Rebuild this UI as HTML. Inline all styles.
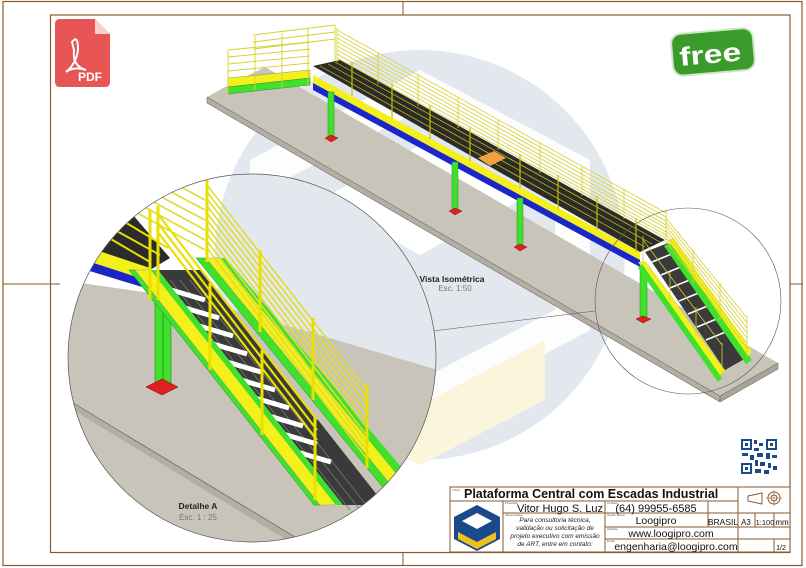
<!DOCTYPE html>
<html><head><meta charset="utf-8"><style>
html,body{margin:0;padding:0;background:#fff;}
svg{display:block;font-family:"Liberation Sans",sans-serif;}
</style></head><body>
<svg width="806" height="568" viewBox="0 0 806 568" xmlns="http://www.w3.org/2000/svg">
<defs>
<clipPath id="dc"><circle cx="252" cy="358" r="184"/></clipPath>
</defs>
<rect width="806" height="568" fill="#fff"/>
<rect x="3" y="1.5" width="799" height="564" fill="none" stroke="#8a5a2a" stroke-width="1.2"/>
<rect x="50.5" y="15" width="739.5" height="537.5" fill="none" stroke="#8a5a2a" stroke-width="1.2"/>
<line x1="403" y1="1" x2="403" y2="15" stroke="#8a5a2a"/>
<line x1="3" y1="284" x2="60" y2="284" stroke="#8a5a2a"/>
<line x1="790" y1="284" x2="803" y2="284" stroke="#8a5a2a"/>
<line x1="403" y1="552" x2="403" y2="566" stroke="#8a5a2a"/>

<circle cx="420" cy="255" r="205" fill="#e3e8ef"/>
<polygon points="420,70 590,160 590,330 420,420 250,330 250,160" fill="#fff" opacity="0.9"/>
<polygon points="420,110 555,180 555,310 420,380 285,310 285,180" fill="#e3e8ef"/>
<polygon points="420,145 520,200 420,255 320,200" fill="#fff"/>
<polygon points="300,340 420,405 545,340 545,400 420,465 300,400" fill="#fbf5dc"/>

<polygon points="207,97 225,87 265,67 778,363 720,396" fill="#c9c4ba"/>
<polygon points="207,97 720,396 720,402 207,103" fill="#b3ada2" stroke="#555" stroke-width="0.5"/>
<polygon points="720,396 778,363 778,369 720,402" fill="#aaa398" stroke="#555" stroke-width="0.5"/>

<polygon points="228,78 310,70 310,78 228,87" fill="#f4f01a" stroke="#777" stroke-width="0.4"/>
<polygon points="228,87 310,78 310,85 228,94" fill="#3fe12c" stroke="#2a7a20" stroke-width="0.4"/>
<g stroke="#d6d030" stroke-width="0.9" fill="none">
<line x1="228" y1="50" x2="310" y2="42"/><line x1="228" y1="57" x2="310" y2="49"/><line x1="228" y1="64" x2="310" y2="56"/><line x1="228" y1="71" x2="310" y2="63"/>
<line x1="253" y1="35" x2="335" y2="25"/><line x1="253" y1="42" x2="335" y2="32"/><line x1="253" y1="49" x2="335" y2="39"/>
<line x1="228" y1="50" x2="228" y2="94"/><line x1="255" y1="36" x2="255" y2="90"/><line x1="282" y1="33" x2="282" y2="88"/><line x1="308" y1="28" x2="308" y2="85"/><line x1="335" y1="25" x2="335" y2="65"/>
</g>

<polygon points="313,66 340,60 665,240 640,252" fill="#2b2b2b"/>
<g stroke="#d8d000" stroke-width="0.7"><line x1="320" y1="66" x2="645" y2="247"/><line x1="328" y1="64" x2="652" y2="244"/><line x1="335" y1="62" x2="660" y2="242"/></g>
<polygon points="313,75 640,252 640,260 313,83" fill="#f4f01a"/>
<polygon points="313,83 640,260 640,267 313,90" fill="#1a26c8"/>
<polygon points="478,158 494,151 506,158 490,166" fill="#f0a040"/>
<g stroke="#d6d030" stroke-width="0.8" fill="none">
<line x1="337" y1="30" x2="666" y2="213"/><line x1="337" y1="34" x2="666" y2="217"/><line x1="337" y1="38" x2="666" y2="221"/><line x1="337" y1="42" x2="666" y2="225"/><line x1="337" y1="46" x2="666" y2="228"/><line x1="337" y1="50" x2="666" y2="232"/><line x1="337" y1="54" x2="666" y2="235"/><line x1="337" y1="58" x2="666" y2="238"/>
<line x1="337" y1="28" x2="337" y2="62"/><line x1="378" y1="52" x2="378" y2="84"/><line x1="418" y1="74" x2="418" y2="106"/><line x1="458" y1="97" x2="458" y2="128"/><line x1="498" y1="119" x2="498" y2="150"/><line x1="540" y1="142" x2="540" y2="173"/><line x1="582" y1="166" x2="582" y2="196"/><line x1="624" y1="189" x2="624" y2="219"/><line x1="666" y1="210" x2="666" y2="240"/>
</g>
<g stroke="#c8c000" stroke-width="1.2">
<line x1="352" y1="62" x2="352" y2="96"/><line x1="392" y1="84" x2="392" y2="118"/><line x1="430" y1="105" x2="430" y2="139"/><line x1="470" y1="127" x2="470" y2="161"/><line x1="520" y1="154" x2="520" y2="188"/><line x1="558" y1="175" x2="558" y2="209"/><line x1="597" y1="196" x2="597" y2="230"/><line x1="636" y1="218" x2="636" y2="252"/>
</g>
<g fill="#3fe12c" stroke="#2a8a20" stroke-width="0.5">
<rect x="328" y="92" width="6" height="45"/><rect x="452" y="162" width="6" height="48"/><rect x="517" y="198" width="6" height="48"/><rect x="640" y="266" width="7" height="51"/>
</g>
<g fill="#e02020" stroke="#700" stroke-width="0.4">
<polygon points="325,138 331,135 338,138 331,142"/><polygon points="449,211 455,208 462,211 455,215"/><polygon points="514,247 520,244 527,247 520,251"/><polygon points="636,319 643,316 651,319 643,323"/>
</g>
<polygon points="645,252 668,243 748,357 725,370" fill="#3a3a3a"/>
<g stroke="#fff" stroke-width="1.6">
<line x1="652" y1="262" x2="674" y2="253"/><line x1="661" y1="275" x2="683" y2="266"/><line x1="670" y1="288" x2="692" y2="279"/><line x1="679" y1="301" x2="701" y2="292"/><line x1="688" y1="314" x2="710" y2="305"/><line x1="697" y1="327" x2="719" y2="318"/><line x1="706" y1="340" x2="728" y2="331"/>
</g>
<polygon points="638,262 646,262 726,372 718,376" fill="#f4f01a" stroke="#888" stroke-width="0.3"/>
<polygon points="638,268 642,264 722,378 718,382" fill="#3fe12c"/>
<polygon points="664,246 672,244 752,360 746,364" fill="#3fe12c"/>
<polygon points="668,240 674,238 752,352 748,356" fill="#f4f01a"/>
<g stroke="#d6d030" stroke-width="0.8" fill="none">
<line x1="666" y1="218" x2="747" y2="318"/><line x1="666" y1="222" x2="747" y2="323"/><line x1="666" y1="226" x2="747" y2="328"/><line x1="666" y1="230" x2="747" y2="333"/><line x1="666" y1="234" x2="747" y2="338"/><line x1="666" y1="238" x2="747" y2="343"/><line x1="666" y1="242" x2="747" y2="348"/>
<line x1="666" y1="216" x2="666" y2="247"/><line x1="693" y1="249" x2="693" y2="283"/><line x1="720" y1="283" x2="720" y2="320"/><line x1="747" y1="316" x2="747" y2="357"/>
<line x1="643" y1="240" x2="722" y2="345"/><line x1="643" y1="236" x2="643" y2="262"/><line x1="670" y1="272" x2="670" y2="300"/><line x1="696" y1="307" x2="696" y2="336"/><line x1="722" y1="343" x2="722" y2="376"/>
</g>

<circle cx="688" cy="301" r="93" fill="none" stroke="#555" stroke-width="0.6"/>
<line x1="433" y1="331" x2="595" y2="311" stroke="#555" stroke-width="0.6"/>

<g clip-path="url(#dc)">
<rect x="60" y="170" width="390" height="380" fill="#fff"/>
<circle cx="420" cy="255" r="205" fill="#e3e8ef"/>
<polygon points="300,340 420,405 545,340 545,400 420,465 300,400" fill="#fbf5dc"/>
<polygon points="60,280 200,300 445,372 445,560 60,560" fill="#c9c4ba"/>
<polygon points="60,395 300,540 300,548 60,402" fill="#b3ada2"/>
<line x1="60" y1="395" x2="300" y2="540" stroke="#555" stroke-width="0.6"/>
<polygon points="60,200 120,200 170,258 150,270 60,240" fill="#2b2b2b"/>
<g stroke="#e8e000" stroke-width="2"><line x1="70" y1="205" x2="160" y2="255"/><line x1="70" y1="215" x2="150" y2="262"/><line x1="80" y1="195" x2="168" y2="248"/></g>
<polygon points="60,238 150,268 152,282 60,252" fill="#f4f01a"/>
<polygon points="60,252 152,282 152,290 60,262" fill="#1a26c8"/>
<g stroke="#e0dc30" stroke-width="1.6" fill="none">
<line x1="95" y1="170" x2="205" y2="230"/><line x1="95" y1="180" x2="205" y2="240"/><line x1="95" y1="190" x2="205" y2="250"/><line x1="110" y1="170" x2="205" y2="220"/><line x1="130" y1="170" x2="205" y2="210"/><line x1="150" y1="170" x2="205" y2="200"/>
</g>
<rect x="155" y="297" width="16" height="88" fill="#3fe12c" stroke="#2a8a20" stroke-width="0.6"/>
<line x1="163" y1="297" x2="163" y2="385" stroke="#2a8a20" stroke-width="0.8"/>
<polygon points="146,387 162,379 178,387 162,395" fill="#e02020" stroke="#700" stroke-width="0.5"/>
<polygon points="158,270 200,270 385,505 343,505" fill="#3a3a3a"/>
<g stroke="#777" stroke-width="0.8">
<line x1="170" y1="280" x2="350" y2="510"/><line x1="180" y1="280" x2="360" y2="510"/><line x1="190" y1="280" x2="370" y2="510"/>
</g>
<g stroke="#fff" stroke-width="5">
<line x1="171" y1="290" x2="205" y2="300"/><line x1="185" y1="308" x2="219" y2="318"/><line x1="199" y1="326" x2="233" y2="336"/><line x1="213" y1="344" x2="247" y2="354"/><line x1="227" y1="362" x2="261" y2="372"/><line x1="241" y1="380" x2="275" y2="390"/><line x1="255" y1="398" x2="289" y2="408"/><line x1="269" y1="416" x2="303" y2="426"/><line x1="283" y1="434" x2="317" y2="444"/><line x1="297" y1="452" x2="331" y2="462"/>
</g>
<polygon points="129,270 135,270 320,505 314,505" fill="#3fe12c" stroke="#2a8a20" stroke-width="0.5"/>
<polygon points="135,270 151,270 336,505 320,505" fill="#f4f01a" stroke="#999" stroke-width="0.5"/>
<polygon points="151,270 158,270 343,505 336,505" fill="#3fe12c"/>
<polygon points="196,258 206,258 395,490 385,490" fill="#3fe12c" stroke="#2a8a20" stroke-width="0.5"/>
<polygon points="206,258 220,258 408,488 395,490" fill="#f4f01a" stroke="#999" stroke-width="0.5"/>
<polygon points="220,258 226,258 412,480 408,488" fill="#3fe12c"/>
<g stroke="#e0dc30" stroke-width="1.6" fill="none">
<line x1="207" y1="185" x2="367" y2="390"/>
<line x1="207" y1="192" x2="367" y2="398"/><line x1="207" y1="199" x2="367" y2="405"/><line x1="207" y1="206" x2="367" y2="413"/><line x1="207" y1="213" x2="367" y2="421"/><line x1="207" y1="220" x2="367" y2="428"/><line x1="207" y1="227" x2="367" y2="436"/><line x1="207" y1="234" x2="367" y2="444"/><line x1="207" y1="241" x2="367" y2="451"/><line x1="207" y1="248" x2="367" y2="459"/>
</g>
<g stroke="#e8e000" stroke-width="3"><line x1="207" y1="180" x2="207" y2="262"/><line x1="260" y1="250" x2="260" y2="332"/><line x1="313" y1="318" x2="313" y2="400"/><line x1="367" y1="385" x2="367" y2="468"/></g>
<g stroke="#e8e000" stroke-width="2.2" fill="none">
<line x1="157" y1="213" x2="317" y2="420"/><line x1="157" y1="222" x2="317" y2="430"/><line x1="157" y1="231" x2="317" y2="440"/>
</g>
<g stroke="#e8e000" stroke-width="3"><line x1="150" y1="210" x2="150" y2="300"/><line x1="158" y1="206" x2="158" y2="300"/><line x1="210" y1="283" x2="210" y2="370"/><line x1="262" y1="350" x2="262" y2="435"/><line x1="315" y1="417" x2="315" y2="500"/></g>
</g>
<circle cx="252" cy="358" r="184" fill="none" stroke="#555" stroke-width="0.7"/>

<text x="452" y="282" font-size="8.5" font-weight="bold" text-anchor="middle" fill="#222">Vista Isométrica</text>
<text x="455" y="291" font-size="8" text-anchor="middle" fill="#777">Esc. 1:50</text>
<text x="198" y="509" font-size="8.5" font-weight="bold" text-anchor="middle" fill="#222">Detalhe A</text>
<text x="198" y="520" font-size="8" text-anchor="middle" fill="#777">Esc. 1 : 25</text>

<path d="M60,19 H95 L110,34 V82 Q110,87 105,87 H60 Q55,87 55,82 V24 Q55,19 60,19 Z" fill="#e85555"/>
<path d="M95,19 L110,34 H95 Z" fill="#f7d0d0"/>
<path d="M72,42 q6,-8 6,8 q-2,14 -12,22 q8,-6 20,-2 q-14,-4 -12,-20 Z" fill="none" stroke="#fff" stroke-width="2"/>
<text x="90" y="81" font-size="12" font-weight="bold" fill="#fff" text-anchor="middle">PDF</text>

<g transform="rotate(-5 712 52)">
<rect x="672" y="31" width="82" height="42" rx="10" fill="#3a9a2a" stroke="#cde6c4" stroke-width="2"/>
<text x="710" y="63" font-size="26" font-weight="bold" fill="#fff" text-anchor="middle" textLength="62" lengthAdjust="spacingAndGlyphs">free</text>
</g>

<g fill="#1a4a8a">
<rect x="740" y="438" width="38" height="37" fill="#fff"/>
<rect x="741" y="439" width="11" height="11"/><rect x="743" y="441" width="7" height="7" fill="#fff"/><rect x="745" y="443" width="3" height="3"/>
<rect x="766" y="439" width="11" height="11"/><rect x="768" y="441" width="7" height="7" fill="#fff"/><rect x="770" y="443" width="3" height="3"/>
<rect x="741" y="463" width="11" height="11"/><rect x="743" y="465" width="7" height="7" fill="#fff"/><rect x="745" y="467" width="3" height="3"/>
<rect x="754" y="440" width="3" height="4"/><rect x="759" y="443" width="4" height="3"/><rect x="754" y="448" width="5" height="3"/><rect x="742" y="453" width="6" height="3"/><rect x="750" y="455" width="4" height="5"/><rect x="757" y="453" width="6" height="4"/><rect x="766" y="453" width="4" height="6"/><rect x="772" y="455" width="5" height="3"/><rect x="755" y="460" width="3" height="6"/><rect x="760" y="462" width="5" height="4"/><rect x="768" y="463" width="3" height="5"/><rect x="773" y="466" width="4" height="4"/><rect x="755" y="469" width="6" height="4"/><rect x="764" y="470" width="5" height="4"/>
</g>

<g stroke="#8a5a2a" stroke-width="1" fill="none">
<rect x="450" y="487" width="340" height="65" fill="#fff"/>
<line x1="450" y1="501" x2="738" y2="501"/>
<line x1="738" y1="487" x2="738" y2="552"/>
<line x1="503" y1="501" x2="503" y2="552"/>
<line x1="605" y1="501" x2="605" y2="552"/>
<line x1="503" y1="513" x2="605" y2="513"/>
<line x1="605" y1="513" x2="790" y2="513"/>
<line x1="605" y1="527" x2="790" y2="527"/>
<line x1="605" y1="539" x2="738" y2="539"/>
<line x1="708" y1="501" x2="708" y2="527"/>
<line x1="738" y1="539" x2="790" y2="539"/>
<line x1="755" y1="513" x2="755" y2="527"/>
<line x1="774" y1="513" x2="774" y2="527"/>
<line x1="774" y1="539" x2="774" y2="552"/>
</g>
<text x="464" y="498" font-size="12.5" font-weight="bold" fill="#111">Plataforma Central com Escadas Industrial</text>
<text x="603" y="512" font-size="11" fill="#111" text-anchor="end">Vitor Hugo S. Luz</text>
<text x="656" y="512" font-size="11" fill="#111" text-anchor="middle">(64) 99955-6585</text>
<text x="656" y="524" font-size="10.5" fill="#111" text-anchor="middle">Loogipro</text>
<text x="723" y="525" font-size="8.5" fill="#111" text-anchor="middle">BRASIL</text>
<text x="746" y="525" font-size="8" fill="#111" text-anchor="middle">A3</text>
<text x="765" y="525" font-size="7.5" fill="#111" text-anchor="middle">1:100</text>
<text x="782" y="525" font-size="8" fill="#111" text-anchor="middle">mm</text>
<text x="671" y="537" font-size="10.5" fill="#111" text-anchor="middle">www.loogipro.com</text>
<text x="676" y="550" font-size="10.5" fill="#111" text-anchor="middle">engenharia@loogipro.com</text>
<text x="781" y="550" font-size="7" fill="#111" text-anchor="middle">1/2</text>
<g font-size="6.5" font-style="italic" fill="#222" text-anchor="middle">
<text x="555" y="522">Para consultoria técnica,</text>
<text x="555" y="530">validação ou solicitação de</text>
<text x="555" y="538">projeto executivo com emissão</text>
<text x="555" y="546">de ART, entre em contato:</text>
</g>
<g font-size="3" fill="#555"><text x="452" y="491">Título</text><text x="505" y="504">Projetista</text><text x="505" y="516">Observações</text><text x="607" y="504">Contato</text><text x="607" y="516">Razão Social</text><text x="607" y="530">Website</text><text x="607" y="542">Email</text></g>
<polygon points="477,505 500,517 500,539 477,551 454,539 454,517" fill="#1a4a8a"/>
<polygon points="477,513 492,521 477,529 462,521" fill="#fff"/>
<polygon points="458,532 477,542 496,532 496,539 477,549 458,539" fill="#f0c020"/>
<polygon points="748,496 762,493 762,504 748,501" fill="none" stroke="#8a5a2a" stroke-width="1"/>
<circle cx="774" cy="498" r="6" fill="none" stroke="#8a5a2a" stroke-width="1"/>
<circle cx="774" cy="498" r="3" fill="none" stroke="#8a5a2a" stroke-width="1"/>
<line x1="766" y1="498" x2="782" y2="498" stroke="#8a5a2a" stroke-width="0.5"/>
<line x1="774" y1="490" x2="774" y2="506" stroke="#8a5a2a" stroke-width="0.5"/>
</svg>
</body></html>
